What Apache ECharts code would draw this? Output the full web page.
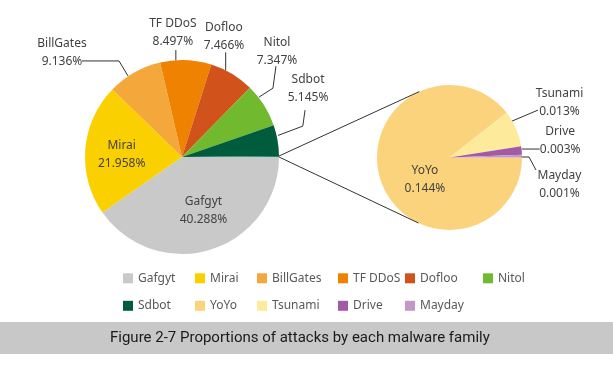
<!DOCTYPE html>
<html><head><meta charset="utf-8">
<script src="https://cdn.jsdelivr.net/npm/echarts@6/dist/echarts.min.js"></script>
<style>html,body{margin:0;padding:0;background:#fff}#c{width:613px;height:367px}</style>
</head><body><div id="c"></div>
<script>
// ---- data ----
const mainNames = ['Gafgyt', 'Mirai', 'BillGates', 'TF DDoS', 'Dofloo', 'Nitol', 'Sdbot'];
const mainValues = [40.288, 21.958, 9.136, 8.497, 7.466, 7.347, 5.145];
const subNames = ['YoYo', 'Tsunami', 'Drive', 'Mayday'];
const subValues = [0.144, 0.013, 0.003, 0.001];
const otherName = 'Other';
const captionText = 'Figure 2-7 Proportions of attacks by each malware family';

// ---- styles ----
const mainColors = ['#c9c9c9', '#fbd000', '#f4a83c', '#ef8200', '#d2521b', '#71b92f', '#005c3d'];
const otherColor = '#17826e';
const subColors = ['#fcd37d', '#fdea9b', '#a15aa6', '#c497c8'];
const MAIN_C = [182, 157], MAIN_R = 97;
const SUB_C = [449.5, 157.5], SUB_R = 72.5;
const TXT = '#424242';
const FONT = 'Noto Sans';

const specMain = [
  {inside: true, dx: 6, dy: 4.5},
  {inside: true, dx: -9, dy: 2},
  {shift: [-6.3, 3.4], pts: [[-9, -15], [-46, -15]], align: 'center', tx: -20, ty: 10, va: 'bottom'},
  {shift: [-10, 0.5], pts: [[0, -10.5]], align: 'center', tx: -3, ty: 1, va: 'bottom'},
  {shift: [-6.3, -3.5], pts: [[0, -18]], align: 'center', tx: -1.7, ty: 2.6, va: 'bottom'},
  {shift: [-5, -8], pts: [[14, -9], [17, -31]], align: 'center', tx: 1, ty: 3, va: 'bottom'},
  {shift: [0.5, -5], pts: [[24.7, -9.3], [27, -25.3]], align: 'center', tx: 3, ty: -3.3, va: 'bottom'},
  {hide: true}
];
const specSub = [
  {inside: true, dx: 12.5, dy: 9.6},
  {shift: [-4, -7.5], pts: [[26, -11]], align: 'center', tx: 21.5, ty: 10, va: 'bottom'},
  {shift: [0, -1.4], pts: [[18, 0]], align: 'center', tx: 20.5, ty: 10, va: 'bottom'},
  {shift: [-1, 0.9], pts: [[8, 0], [15, 13]], align: 'center', tx: 23.5, ty: -3, va: 'top'}
];

function makeLayout(spec) {
  return function (params) {
    const s = spec[params.dataIndex];
    if (!s || s.hide) return {};
    if (s.inside) return {dx: s.dx, dy: s.dy};
    const p0 = params.labelLinePoints[0];
    const st = [p0[0] + s.shift[0], p0[1] + s.shift[1]];
    const pts = [st].concat(s.pts.map(d => [st[0] + d[0], st[1] + d[1]]));
    while (pts.length < 3) pts.push(pts[pts.length - 1].slice());
    const end = pts[pts.length - 1];
    return {x: end[0] + s.tx, y: end[1] + s.ty, align: s.align, verticalAlign: s.va, labelLinePoints: pts};
  };
}

const otherValue = subValues.reduce((a, b) => a + b, 0);
const allMainNames = mainNames.concat([otherName]);
const allMainValues = mainValues.concat([otherValue]);
const allMainColors = mainColors.concat([otherColor]);

function buildData(names, values, colors, spec) {
  return names.map((n, i) => {
    const s = spec[i];
    return {
      name: n, value: values[i],
      itemStyle: {color: colors[i]},
      label: {show: !s.hide, position: s.inside ? 'inside' : 'outside'},
      labelLine: {show: !s.inside && !s.hide}
    };
  });
}

const labelCommon = {
  color: TXT, fontFamily: FONT, fontSize: 12, lineHeight: 18,
  formatter: p => p.name + '\n' + p.value.toFixed(3) + '%'
};
const lineCommon = {lineStyle: {color: '#333', width: 1}, length: 10, length2: 10};

// connector tangent lines
const total = allMainValues.reduce((a, b) => a + b, 0);
const otherAng = otherValue / total * 2 * Math.PI;
function mainPt(a) { return [MAIN_C[0] + MAIN_R * Math.cos(a), MAIN_C[1] + MAIN_R * Math.sin(a)]; }
function tangent(E, sign) {
  const dx = E[0] - SUB_C[0], dy = E[1] - SUB_C[1];
  const d = Math.hypot(dx, dy);
  const phi = Math.atan2(dy, dx);
  const a = phi + sign * Math.acos(SUB_R / d);
  return [SUB_C[0] + SUB_R * Math.cos(a), SUB_C[1] + SUB_R * Math.sin(a)];
}
const eUp = mainPt(2 * Math.PI - otherAng), eLo = mainPt(0);
const tUp = tangent(eUp, 1), tLo = tangent(eLo, -1);

// legend columns
const legendCols = [
  {left: 123, names: ['Gafgyt', 'Sdbot']},
  {left: 195, names: ['Mirai', 'YoYo']},
  {left: 257, names: ['BillGates', 'Tsunami']},
  {left: 338, names: ['TF DDoS', 'Drive']},
  {left: 405, names: ['Dofloo', 'Mayday']},
  {left: 483, names: ['Nitol']}
];

const chart = echarts.init(document.getElementById('c'));
chart.setOption({
  animation: false,
  backgroundColor: '#fff',
  legend: legendCols.map(c => ({
    orient: 'vertical', left: c.left, top: 271.3, padding: 0,
    itemWidth: 10, itemHeight: 10, itemGap: 13.5, icon: 'rect',
    textStyle: {color: '#595959', fontFamily: FONT, fontSize: 12, lineHeight: 14},
    data: c.names
  })),
  graphic: [
    {type: 'line', shape: {x1: eUp[0], y1: eUp[1], x2: tUp[0], y2: tUp[1]}, style: {stroke: '#333', lineWidth: 1}, z: 10},
    {type: 'line', shape: {x1: eLo[0], y1: eLo[1], x2: tLo[0], y2: tLo[1]}, style: {stroke: '#333', lineWidth: 1}, z: 10},
    {type: 'rect', shape: {x: 0, y: 322, width: 613, height: 32}, style: {fill: '#c8c8c8'}, z: 1},
    {type: 'text', x: 110, y: 338.5, style: {text: captionText, fill: '#1a1a1a', font: '15px Roboto', textVerticalAlign: 'middle', textAlign: 'left'}, z: 2}
  ],
  series: [
    {
      type: 'pie', center: MAIN_C, radius: MAIN_R, startAngle: 0, clockwise: true,
      avoidLabelOverlap: false, itemStyle: {borderWidth: 0},
      label: labelCommon, labelLine: lineCommon, emphasis: {disabled: true},
      labelLayout: makeLayout(specMain),
      data: buildData(allMainNames, allMainValues, allMainColors, specMain)
    },
    {
      type: 'pie', center: SUB_C, radius: SUB_R, startAngle: 0, clockwise: true,
      avoidLabelOverlap: false, itemStyle: {borderWidth: 0},
      label: labelCommon, labelLine: lineCommon, emphasis: {disabled: true},
      labelLayout: makeLayout(specSub),
      data: buildData(subNames, subValues, subColors, specSub)
    }
  ]
});
</script></body></html>
